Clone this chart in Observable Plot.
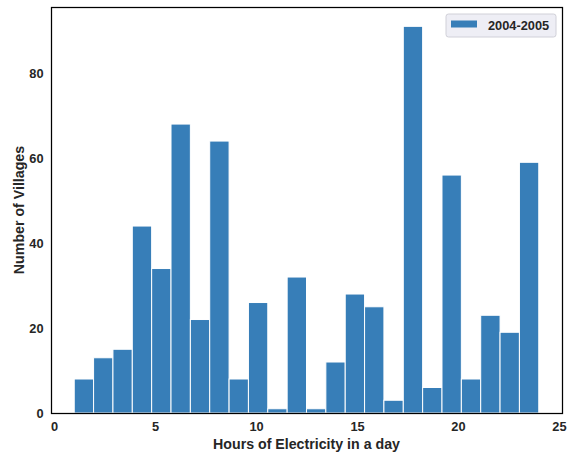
<!DOCTYPE html>
<html>
<head>
<meta charset="utf-8">
<script src="https://cdn.jsdelivr.net/npm/d3@7"></script>
<script src="https://cdn.jsdelivr.net/npm/@observablehq/plot@0.6"></script>
<style>
  body { margin: 0; background: #fff; }
  #chart svg { display: block; }
</style>
</head>
<body>
<div id="chart"></div>
<script>
// Bin edges (hours of electricity per day)
const binEdges = [1, 1.958, 2.917, 3.875, 4.833, 5.792, 6.75, 7.708, 8.667, 9.625, 10.583, 11.542, 12.5,
                  13.458, 14.417, 15.375, 16.333, 17.292, 18.25, 19.208, 20.167, 21.125, 22.083, 23.042, 24];
// Village counts per bin
const counts = [8, 13, 15, 44, 34, 68, 22, 64, 8, 26, 1, 32, 1, 12, 28, 25, 3, 91, 6, 56, 8, 23, 19, 59];
const seriesName = "2004-2005";
const xTicks = [0, 5, 10, 15, 20, 25];
const yTicks = [0, 20, 40, 60, 80];
const xLabel = "Hours of Electricity in a day";
const yLabel = "Number of Villages";

const bins = counts.map((c, i) => ({x1: binEdges[i], x2: binEdges[i + 1], count: c}));

const W = 567, H = 456;
const mL = 51, mR = 5, mT = 7, mB = 43;
const font = "'Liberation Sans', Arial, sans-serif";
const ink = "#262626";
const blue = "#377eb8";

const chart = Plot.plot({
  width: W,
  height: H,
  marginLeft: mL,
  marginRight: mR,
  marginTop: mT,
  marginBottom: mB,
  style: {fontFamily: font, fontSize: "12.8px", fontWeight: "bold", background: "#fff", color: ink, overflow: "visible"},
  x: {domain: [-0.15, 25.15]},
  y: {domain: [0, 95.55]},
  marks: [
    Plot.rectY(bins, {x1: "x1", x2: "x2", y: "count", fill: blue, stroke: "#fff", strokeWidth: 1, inset: 0}),
    Plot.axisX({ticks: xTicks, tickSize: 0, tickPadding: 8, fontSize: 12.8, fontWeight: "bold", label: null, tickFormat: d3.format("d")}),
    Plot.axisY({ticks: yTicks, tickSize: 0, tickPadding: 8, fontSize: 12.8, fontWeight: "bold", label: null, tickFormat: d3.format("d")}),
    Plot.frame({stroke: "#000", strokeWidth: 1.25})
  ]
});

document.getElementById("chart").appendChild(chart);

const svg = d3.select(chart);
// Axis labels
svg.append("text")
  .attr("x", mL + (W - mL - mR) / 2)
  .attr("y", 449)
  .attr("text-anchor", "middle")
  .attr("font-family", font)
  .attr("font-size", 14.2)
  .attr("font-weight", "bold")
  .attr("fill", ink)
  .text(xLabel);
svg.append("text")
  .attr("transform", `translate(24, ${mT + (H - mT - mB) / 2}) rotate(-90)`)
  .attr("text-anchor", "middle")
  .attr("font-family", font)
  .attr("font-size", 14.2)
  .attr("font-weight", "bold")
  .attr("fill", ink)
  .text(yLabel);

// Legend
const lg = svg.append("g");
lg.append("rect")
  .attr("x", 446).attr("y", 14).attr("width", 110).attr("height", 23)
  .attr("rx", 2.5).attr("ry", 2.5)
  .attr("fill", "#eaeaf2").attr("fill-opacity", 0.8)
  .attr("stroke", "#d0d0d8").attr("stroke-width", 1);
lg.append("rect")
  .attr("x", 451).attr("y", 20.5).attr("width", 26).attr("height", 7)
  .attr("fill", blue);
lg.append("text")
  .attr("x", 488).attr("y", 29.5)
  .attr("text-anchor", "start")
  .attr("font-family", font)
  .attr("font-size", 12.8)
  .attr("font-weight", "bold")
  .attr("fill", ink)
  .text(seriesName);
</script>
</body>
</html>
